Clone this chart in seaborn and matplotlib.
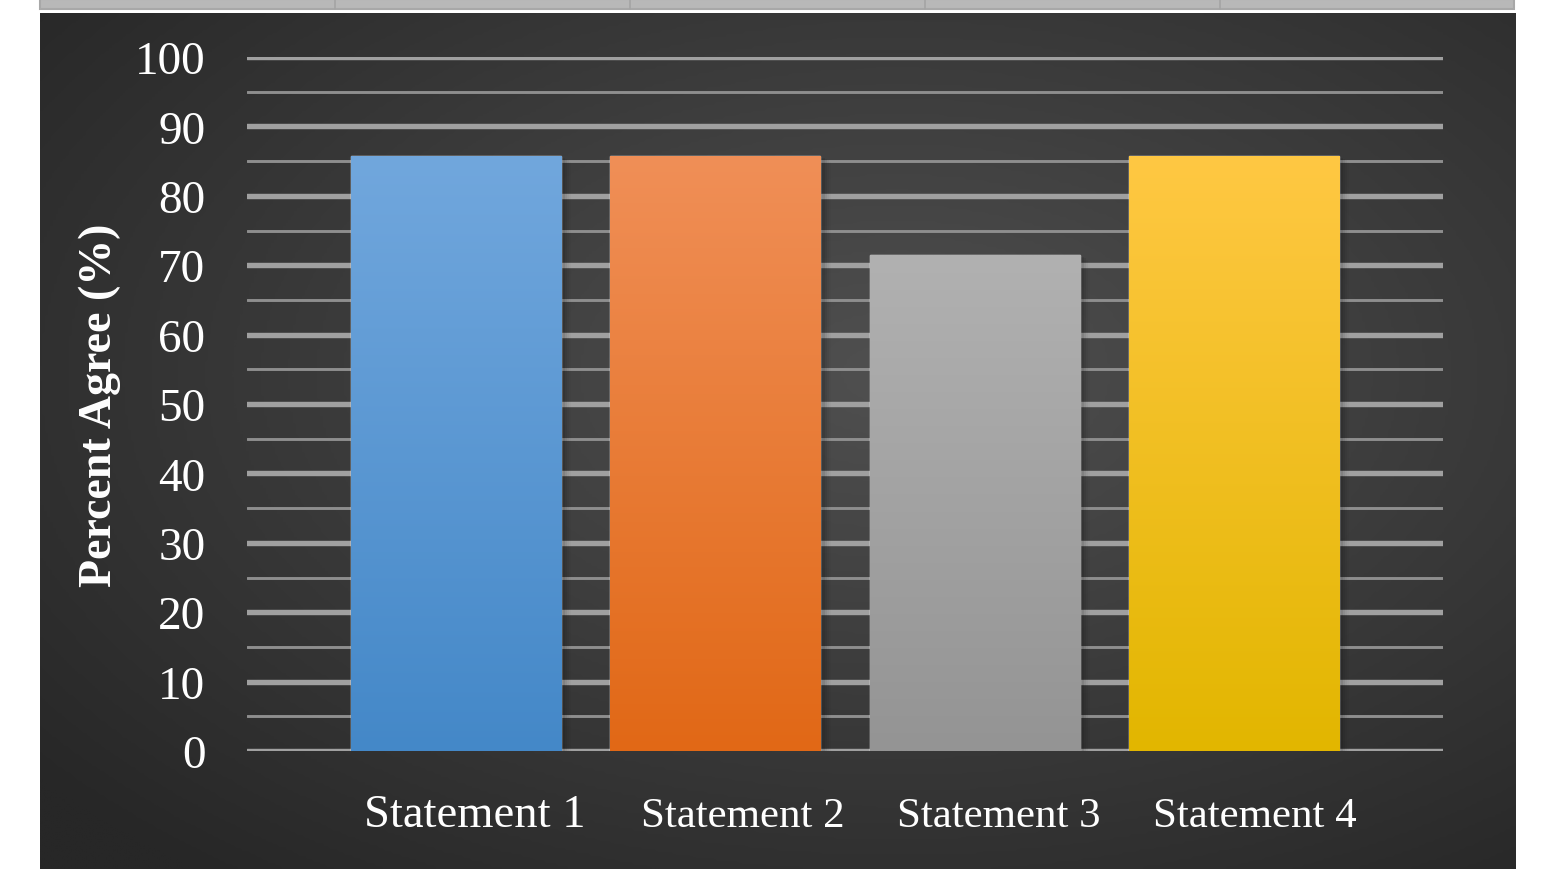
import numpy as np
import pandas as pd
import matplotlib
matplotlib.use("Agg")
import matplotlib.pyplot as plt
import matplotlib.transforms as mtransforms
import seaborn as sns
from matplotlib.patches import Rectangle
from matplotlib.colors import LinearSegmentedColormap

categories = ["Statement 1", "Statement 2", "Statement 3", "Statement 4"]
values = [85.7, 85.7, 71.4, 85.7]
top_colors = ["#71a7dd", "#f08f57", "#b1b1b1", "#ffc843"]
bottom_colors = ["#4488c8", "#e16816", "#949494", "#e2b600"]
y_ticks = [0, 10, 20, 30, 40, 50, 60, 70, 80, 90, 100]

sns.set_theme(style="dark")
plt.rcParams['font.family'] = ['Liberation Serif', 'DejaVu Serif']

W, H = 1541, 870
fig = plt.figure(figsize=(W / 100, H / 100), dpi=100)
fig.patch.set_facecolor("white")

# top gray strip (spreadsheet header remnant)
fig.patches.append(Rectangle((40 / W, 1 - 10 / H), 1474 / W, 10 / H, transform=fig.transFigure,
                             facecolor="#b8b8b8", edgecolor="#a8a8a8", lw=1.5, zorder=0))
for xd in [335, 630, 925, 1220]:
    fig.add_artist(plt.Line2D([xd / W, xd / W], [1 - 10 / H, 1], transform=fig.transFigure,
                              color="#a4a4a4", lw=1.2))

# dark radial gradient panel
bg = fig.add_axes([40 / W, 0, 1476 / W, 856 / H], zorder=-1)
ny, nx = 300, 520
yy, xx = np.mgrid[0:ny, 0:nx]
cx, cy = nx * 0.58, ny * 0.42
r = np.sqrt(((xx - cx) / nx) ** 2 + ((yy - cy) / ny) ** 2)
r = np.clip(r / 0.75, 0, 1)
bgcmap = LinearSegmentedColormap.from_list("bg", ["#505050", "#3b3b3b", "#272727"])
bg.imshow(r, cmap=bgcmap, aspect="auto", interpolation="bilinear", vmin=0, vmax=1)
bg.axis("off")

ax = fig.add_axes([247 / W, 1 - 752 / H, (1443 - 247) / W, (752 - 58) / H])
ax.set_facecolor("none")

df = pd.DataFrame({"Statement": categories, "Percent": values})
sns.barplot(data=df, x="Statement", y="Percent", hue="Statement", palette=top_colors,
            width=0.81, legend=False, ax=ax, zorder=3, saturation=1)

ax.set_xlim(-0.806, 3.806)
ax.set_ylim(0, 100)

# gradient fill and soft shadow per bar
for patch, tc, bc in zip(ax.patches, top_colors, bottom_colors):
    x0, y0 = patch.get_x(), patch.get_y()
    w, h = patch.get_width(), patch.get_height()
    for k, a in enumerate([0.10, 0.08, 0.06, 0.04, 0.02]):
        ax.add_patch(Rectangle((x0 + 0.008 * (k + 1), y0), w, h - 0.2 * k,
                               facecolor="black", alpha=a, lw=0, zorder=2))
    cmap = LinearSegmentedColormap.from_list("g", [bc, tc])
    grad = np.linspace(0, 1, 256).reshape(-1, 1)
    im = ax.imshow(grad, cmap=cmap, aspect="auto", origin="lower",
                   extent=[x0, x0 + w, y0, y0 + h], zorder=4, interpolation="bilinear")
    im.set_clip_path(patch)

ax.set_xlim(-0.806, 3.806)
ax.set_ylim(0, 100)

ax.set_yticks(y_ticks)
ax.set_yticks(np.arange(5, 100, 10), minor=True)
ax.grid(False)
ax.yaxis.grid(True, which="major", color="#a0a0a0", lw=3.9, zorder=1)
ax.yaxis.grid(True, which="minor", color="#8e8e8e", lw=2.1, zorder=1)
ax.set_axisbelow(True)
for s in ax.spines.values():
    s.set_visible(False)
ax.tick_params(axis="y", which="both", length=0, pad=30, labelsize=34, labelcolor="white")
ax.tick_params(axis="x", length=0, pad=54, labelsize=31, labelcolor="white")
ax.set_xlabel("")
ax.set_ylabel("Percent Agree (%)", fontsize=33, fontweight="bold", color="white", labelpad=10)

# x labels sit slightly right of bar centres in the reference; first one is larger
offsets = [19, 27, 24, 21]
sizes = [33.5, 31, 31, 31]
for lab, dx, fs in zip(ax.get_xticklabels(), offsets, sizes):
    lab.set_fontsize(fs)
    lab.set_va("baseline")
    lab.set_transform(lab.get_transform() + mtransforms.ScaledTranslation(dx / 100, 0, fig.dpi_scale_trans))

fig.savefig("out.png", dpi=100)
